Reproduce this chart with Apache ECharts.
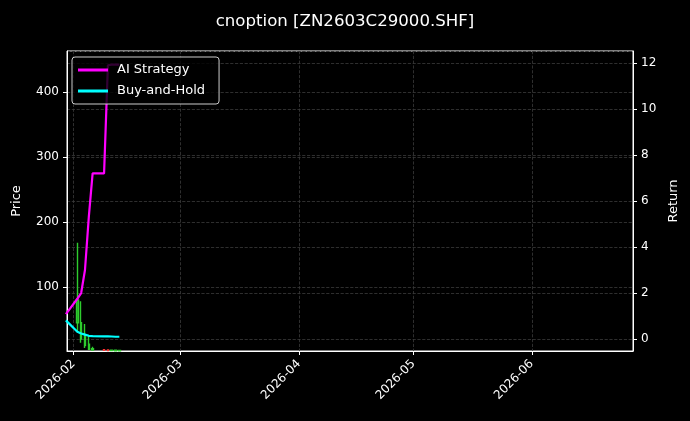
<!DOCTYPE html>
<html lang="en">
<head>
    <meta charset="UTF-8">
    <title>cnoption</title>
    <style>
        html, body { margin: 0; padding: 0; background: #000; }
    </style>
</head>
<body>
<div id="chart1" style="width:690px; height:421px;"></div>
<script type="text/javascript" src="https://cdn.jsdelivr.net/npm/echarts@6/dist/echarts.min.js"></script>
<script type="text/javascript">
// trading days
var dates = ['2026-01-30', '2026-02-02', '2026-02-03', '2026-02-04', '2026-02-05', '2026-02-06',
             '2026-02-09', '2026-02-10', '2026-02-11', '2026-02-12', '2026-02-13'];
// candles: open, close, low, high
var candleDates = ['2026-02-02', '2026-02-03', '2026-02-04', '2026-02-05', '2026-02-06',
                   '2026-02-09', '2026-02-10', '2026-02-11', '2026-02-12', '2026-02-13'];
var opens  = [45, 20, 10, 4, 3, 3.5, 3.2, 2.2, 2.0, 2.0];
var closes = [80, 45, 25, 12, 5, 2.4, 2.2, 2.8, 2.6, 2.4];
var lows   = [30, 14, 6, 3, 2, 2.0, 1.9, 1.8, 1.8, 1.8];
var highs  = [168, 78, 43, 25, 8, 4.0, 3.6, 3.5, 3.2, 3.0];
// returns on right axis
var aiReturn  = [1.08, 1.75, 2.0, 3.0, 5.3, 7.2, 7.2, 11.9, 11.93, 11.93, 11.93];
var bahReturn = [0.81, 0.32, 0.24, 0.19, 0.14, 0.13, 0.12, 0.12, 0.11, 0.1, 0.1];

var candleData = [];
for (var i = 0; i < candleDates.length; i++) {
    candleData.push([candleDates[i], opens[i], closes[i], lows[i], highs[i]]);
}
var aiData = [], bahData = [];
for (var j = 0; j < dates.length; j++) {
    aiData.push([dates[j], aiReturn[j]]);
    bahData.push([dates[j], bahReturn[j]]);
}

function pad(n) { return n < 10 ? '0' + n : '' + n; }

var txt = '#ffffff';
var font = 'DejaVu Sans';
var gridLine = { show: true, lineStyle: { color: '#3a3a3a', type: 'dashed', width: 0.8 } };

var option = {
    backgroundColor: '#000',
    animation: false,
    textStyle: { fontFamily: font },
    title: {
        text: 'cnoption [ZN2603C29000.SHF]',
        left: 'center',
        top: 8,
        textStyle: { color: txt, fontSize: 16.6, fontWeight: 'normal', fontFamily: font }
    },
    grid: {
        left: 67, right: 57, top: 51, bottom: 70,
        show: true, borderColor: '#fff', borderWidth: 1, backgroundColor: '#000'
    },
    legend: {
        left: 72, top: 57,
        orient: 'vertical',
        backgroundColor: 'rgba(0,0,0,0.8)',
        borderColor: '#cccccc', borderWidth: 1, borderRadius: 3,
        padding: [6, 14, 6, 6],
        itemGap: 7,
        itemWidth: 30, itemHeight: 3,
        icon: 'rect',
        data: ['AI Strategy', 'Buy-and-Hold'],
        textStyle: { color: txt, fontSize: 13, fontFamily: font, lineHeight: 14, padding: [0, 0, 0, 4] }
    },
    xAxis: {
        type: 'time',
        min: '2026-01-30 07:00',
        max: '2026-06-27 12:00',
        splitNumber: 5,
        axisLine: { show: true, onZero: false, lineStyle: { color: '#fff' } },
        axisTick: { show: true, length: 4, lineStyle: { color: '#fff' } },
        axisLabel: {
            color: txt, fontSize: 12, rotate: 45, fontFamily: font,
            margin: 11,
            hideOverlap: false,
            formatter: function (v) {
                var d = new Date(v);
                if (d.getDate() !== 1 || d.getHours() !== 0) return '';
                return d.getFullYear() + '-' + pad(d.getMonth() + 1);
            }
        },
        splitLine: gridLine
    },
    yAxis: [{
        type: 'value',
        name: 'Price',
        nameLocation: 'middle',
        nameRotate: 90,
        nameGap: 44,
        nameTextStyle: { color: txt, fontSize: 13, fontFamily: font },
        min: 1.5, max: 463,
        axisLine: { show: true, onZero: false, lineStyle: { color: '#fff' } },
        axisTick: { show: true, length: 4, lineStyle: { color: '#fff' } },
        axisLabel: {
            color: txt, fontSize: 12, fontFamily: font,
            showMinLabel: false, showMaxLabel: false,
            formatter: function (v) { return v % 100 === 0 ? v : ''; }
        },
        splitLine: gridLine
    }, {
        type: 'value',
        name: 'Return',
        position: 'right',
        nameLocation: 'middle',
        nameRotate: 90,
        nameGap: 34,
        nameTextStyle: { color: txt, fontSize: 13, fontFamily: font },
        min: -0.52, max: 12.52,
        splitNumber: 7,
        axisLine: { show: true, onZero: false, lineStyle: { color: '#fff' } },
        axisTick: { show: true, length: 4, lineStyle: { color: '#fff' } },
        axisLabel: {
            color: txt, fontSize: 12, fontFamily: font,
            showMinLabel: false, showMaxLabel: false,
            formatter: function (v) { return Math.abs(v % 2) < 1e-9 ? v : ''; }
        },
        splitLine: gridLine
    }],
    series: [{
        name: 'Price',
        type: 'candlestick',
        yAxisIndex: 0,
        barWidth: 2,
        itemStyle: {
            color: '#1f9e1f', color0: '#ff3030',
            borderColor: '#2ecc2e', borderColor0: '#ff3030', borderWidth: 1.4
        },
        data: candleData
    }, {
        name: 'AI Strategy',
        type: 'line',
        yAxisIndex: 1,
        showSymbol: false,
        lineStyle: { color: '#ff00ff', width: 2.2 },
        itemStyle: { color: '#ff00ff' },
        data: aiData
    }, {
        name: 'Buy-and-Hold',
        type: 'line',
        yAxisIndex: 1,
        showSymbol: false,
        lineStyle: { color: '#00ffff', width: 2.2 },
        itemStyle: { color: '#00ffff' },
        data: bahData
    }]
};

var myChart = echarts.init(document.getElementById('chart1'));
myChart.setOption(option);
</script>
</body>
</html>
